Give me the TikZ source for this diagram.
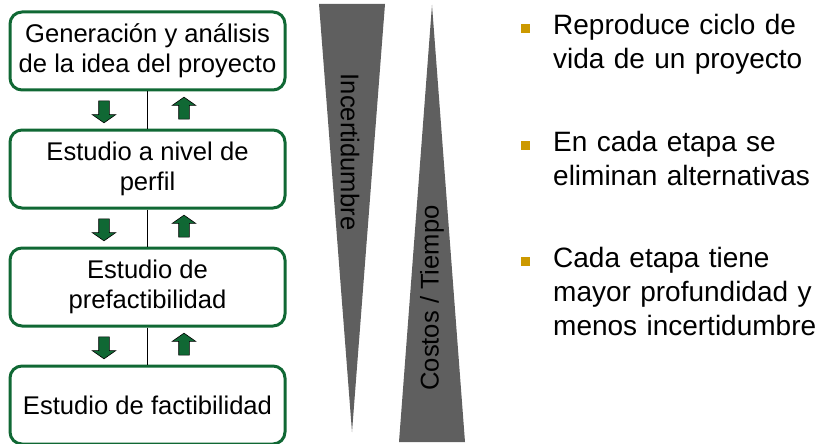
\documentclass[tikz,border=0pt]{standalone}
\usepackage{fontspec}
\setmainfont{Liberation Sans}
\usetikzlibrary{positioning,calc,shapes.arrows}
\definecolor{verde}{RGB}{16,104,52}
\definecolor{dorado}{RGB}{204,153,0}
\definecolor{gris}{RGB}{95,95,95}
\tikzset{
  etapa/.style={rectangle, draw=verde, line width=3pt, rounded corners=12pt,
    minimum width=275pt, minimum height=78pt, align=center,
    font=\fontsize{25.6}{30}\selectfont},
  flecha/.style={single arrow, draw=black, line width=0.6pt, fill=verde,
    inner sep=5pt, minimum height=22pt,
    single arrow head extend=6.5pt, single arrow tip angle=110},
  vineta/.style={rectangle, fill=dorado, inner sep=0pt, minimum size=9pt},
  punto/.style={anchor=base west, inner sep=0pt, text width=270pt, align=left,
    font=\fontsize{28}{34}\selectfont}
}
\begin{document}
\begin{tikzpicture}[x=1pt, y=-1pt, node distance=37pt]
        \useasboundingbox (0,0) rectangle (820,444);
        % Etapas
        \node (idea) [etapa] at (147.5,51) {Generación y análisis\\de la idea del proyecto};
        \node (perfil) [etapa, below=of idea] {Estudio a nivel de\\perfil};
        \node (prefact) [etapa, below=of perfil] {Estudio de\\prefactibilidad};
        \node (fact) [etapa, below=of prefact] {Estudio de factibilidad};

        % Lineas entre etapas
        \draw[line width=1.8pt] (idea) -- (perfil);
        \draw[line width=1.8pt] (perfil) -- (prefact);
        \draw[line width=1.8pt] (prefact) -- (fact);

        % Flechas
        \node (baja1) [flecha, shape border rotate=270] at ([xshift=-43.5pt]$(idea.south)!.5!(perfil.north)$) {};
        \node (sube1) [flecha, shape border rotate=90] at ([xshift=36.5pt]$(idea.south)!.5!(perfil.north)$) {};
        \node (baja2) [flecha, shape border rotate=270] at ([xshift=-43.5pt]$(perfil.south)!.5!(prefact.north)$) {};
        \node (sube2) [flecha, shape border rotate=90] at ([xshift=36.5pt]$(perfil.south)!.5!(prefact.north)$) {};
        \node (baja3) [flecha, shape border rotate=270] at ([xshift=-43.5pt]$(prefact.south)!.5!(fact.north)$) {};
        \node (sube3) [flecha, shape border rotate=90] at ([xshift=36.5pt]$(prefact.south)!.5!(fact.north)$) {};

        % Triangulos
        \fill[gris] (319,4) -- (385,4) -- (352,432) -- cycle;
        \fill[gris] (432,5) -- (465,442) -- (399,442) -- cycle;
        \node (incert) [rotate=-90, font=\fontsize{25.6}{30}\selectfont] at (350,152) {Incertidumbre};
        \node (costos) [rotate=90, font=\fontsize{25.6}{30}\selectfont] at (432,298) {Costos / Tiempo};

        % Puntos
        \node (v1) [vineta] at (525,29) {};
        \node (t1) [punto] at ([xshift=28pt, yshift=-6pt]v1.center) {Reproduce ciclo de\\vida de un proyecto};
        \node (v2) [vineta] at (525,145) {};
        \node (t2) [punto] at ([xshift=28pt, yshift=-6pt]v2.center) {En cada etapa se\\eliminan alternativas};
        \node (v3) [vineta] at (525,261) {};
        \node (t3) [punto] at ([xshift=28pt, yshift=-6pt]v3.center) {Cada etapa tiene\\mayor profundidad y\\menos incertidumbre};
    \end{tikzpicture}
\end{document}
